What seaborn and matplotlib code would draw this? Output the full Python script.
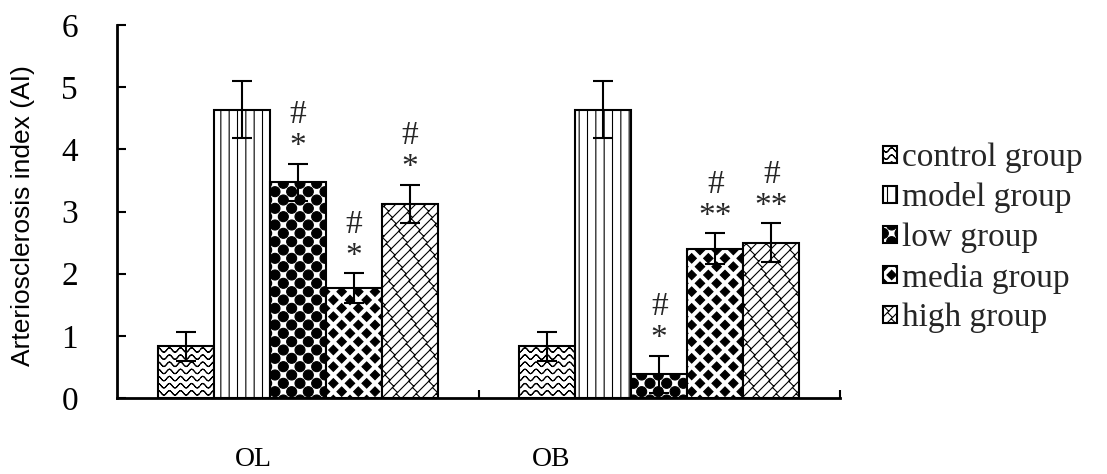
import warnings
import numpy as np
import pandas as pd
import matplotlib
matplotlib.use("Agg")
import matplotlib.pyplot as plt
import matplotlib.hatch as mhatch
import matplotlib.transforms as mtransforms
from matplotlib.path import Path
import seaborn as sns

warnings.filterwarnings("ignore")

# ---- data -------------------------------------------------------------
sites = ["OL", "OB"]
groups = ["control group", "model group", "low group", "media group", "high group"]
ol_mean = [0.83, 4.64, 3.47, 1.77, 3.12]
ol_err = [0.23, 0.46, 0.30, 0.24, 0.31]
ob_mean = [0.83, 4.64, 0.38, 2.40, 2.50]
ob_err = [0.23, 0.46, 0.30, 0.25, 0.31]
# significance marks: vs. control (lower line) and vs. model (upper line)
ol_star = ["", "", "*", "*", "*"]
ob_star = ["", "", "*", "**", "**"]
ol_hash = ["", "", "#", "#", "#"]
ob_hash = ["", "", "#", "#", "#"]
y_ticks = [0, 1, 2, 3, 4, 5, 6]


# ---- custom fill patterns ---------------------------------------------
class _TiledPattern(mhatch.HatchPatternBase):
    char = None

    def __init__(self, hatch, density):
        if hatch and self.char in hatch:
            self.verts, self.codes = self.build()
            self.num_vertices = len(self.verts)
        else:
            self.num_vertices = 0

    def set_vertices_and_codes(self, vertices, codes):
        vertices[:] = self.verts
        codes[:] = self.codes


def _segments(pairs):
    verts = np.asarray(pairs, float).reshape(-1, 2)
    codes = np.tile([Path.MOVETO, Path.LINETO], len(verts) // 2)
    return verts, codes


def _shapes(shape_v, shape_c, centers, scale):
    vs = [shape_v * scale + c for c in centers]
    cs = [shape_c for _ in centers]
    return np.concatenate(vs), np.concatenate(cs)


class WavePattern(_TiledPattern):
    char = "w"

    def build(self):
        rows, periods, amp, steps = 14, 9, 0.022, 12
        x = np.linspace(0, 1, periods * steps + 1)
        pairs = []
        for r in range(rows + 1):
            y = r / rows + amp * np.sin(2 * np.pi * periods * x)
            pts = np.column_stack([x, y])
            pairs.append(np.stack([pts[:-1], pts[1:]], axis=1))
        return _segments(np.concatenate(pairs))


class SphereCheckerPattern(_TiledPattern):
    char = "c"

    def build(self):
        n, radius = 12, 0.05
        circ = Path.unit_circle()
        centers = [(i / n, j / n) for i in range(-1, n + 2)
                   for j in range(-1, n + 2) if (i + j) % 2 == 0]
        return _shapes(circ.vertices, circ.codes, centers, radius)


class DiamondCheckerPattern(_TiledPattern):
    char = "d"

    def build(self):
        n, radius = 12, 0.047
        shape = np.array([[0, -1], [1, 0], [0, 1], [-1, 0], [0, -1]], float)
        codes = np.array([Path.MOVETO, Path.LINETO, Path.LINETO,
                          Path.LINETO, Path.CLOSEPOLY])
        centers = [(i / n, j / n) for i in range(-1, n + 2)
                   for j in range(-1, n + 2) if (i + j) % 2 == 0]
        return _shapes(shape, codes, centers, radius)


class DiagonalBrickPattern(_TiledPattern):
    char = "b"

    def build(self):
        # long strokes rising to the right, short joints between neighbours
        n, m = 10, 8
        d = 1.0 / n
        pairs = []
        for k in range(-n - 1, n + 2):
            c = k * d
            pairs.append([(c, 0.0), (1.0 + c, 1.0)])
            for q in range(-1, m + 2):
                t = c + (q + 0.5 * (k % 2)) / m
                pairs.append([(t, t - c), (t + d / 2, t - c - d / 2)])
        return _segments(pairs)


for _cls in (WavePattern, SphereCheckerPattern,
             DiamondCheckerPattern, DiagonalBrickPattern):
    mhatch._hatch_types.append(_cls)

hatches = ["w", "||", "c", "d", "b"]

# ---- figure -----------------------------------------------------------
sns.set_theme(style="white")
plt.rcParams["font.family"] = ["Liberation Serif", "DejaVu Serif"]
plt.rcParams["hatch.linewidth"] = 0.8
plt.rcParams["hatch.color"] = "black"

df = pd.DataFrame({
    "site": np.repeat(sites, len(groups)),
    "group": groups * len(sites),
    "value": ol_mean + ob_mean,
})

fig = plt.figure(figsize=(11.07, 4.74), dpi=100)
ax = fig.add_axes([117 / 1107, 1 - 398 / 474, 723 / 1107, 373 / 474])

sns.barplot(data=df, x="site", y="value", hue="group", order=sites,
            hue_order=groups, palette=["white"] * len(groups), saturation=1,
            width=0.775, edgecolor="black", linewidth=1.5, errorbar=None,
            legend=False, ax=ax)

bar_sets = list(ax.containers)
errs = [list(e) for e in zip(ol_err, ob_err)]
stars = [list(s) for s in zip(ol_star, ob_star)]
hashes = [list(h) for h in zip(ol_hash, ob_hash)]

for cont, hatch, err, st, hs in zip(bar_sets, hatches, errs, stars, hashes):
    xs, tops = [], []
    for bar in cont:
        bar.set_hatch(hatch)
        bar.set_zorder(2)
        xs.append(bar.get_x() + bar.get_width() / 2)
        tops.append(bar.get_height())
    ax.errorbar(xs, tops, yerr=err, fmt="none", ecolor="black",
                elinewidth=1.5, capsize=7.5, capthick=1.5, zorder=3)
    for x, top, e, s, h in zip(xs, tops, err, st, hs):
        if s:
            ax.annotate(s, (x, top + e), xytext=(0, 6),
                        textcoords="offset points", ha="center",
                        va="baseline", fontsize=24)
        if h:
            ax.annotate(h, (x, top + e), xytext=(0, 29),
                        textcoords="offset points", ha="center",
                        va="baseline", fontsize=24)

# axes styling
ax.set_xlim(-0.5, 1.5)
ax.set_ylim(0, 6)
ax.set_yticks(y_ticks)
ax.set_yticklabels([str(t) for t in y_ticks])
ax.set_xticks([0.5, 1.5])
ax.set_xticklabels([])
ax.tick_params(axis="y", direction="in", length=6.5, width=1.5, pad=28,
               labelsize=24, left=True, colors="black")
ax.tick_params(axis="x", direction="in", length=6, width=1.5, bottom=True,
               colors="black")
for side in ("top", "right"):
    ax.spines[side].set_visible(False)
for side in ("left", "bottom"):
    ax.spines[side].set_linewidth(2)
    ax.spines[side].set_color("black")
ax.set_xlabel("")
ax.set_ylabel("Arteriosclerosis index (AI)", family="Liberation Sans",
              fontsize=19, color="black")
ax.yaxis.set_label_coords(-0.113, 0.49)

# category names below the axis
site_label_x = [-0.124, 0.70]
name_tf = mtransforms.blended_transform_factory(ax.transData, fig.transFigure)
for name, xpos in zip(sites, site_label_x):
    ax.text(xpos, 2 / 474, name, transform=name_tf,
            ha="center", va="bottom", fontsize=20, color="black")

fig.legend([c.patches[0] for c in bar_sets], groups, loc="center left",
           bbox_to_anchor=(883 / 1107, 1 - 238 / 474), frameon=False,
           fontsize=24, handlelength=0.42, handleheight=0.42,
           handletextpad=0.15, labelspacing=0.28, borderpad=0,
           borderaxespad=0)

fig.savefig("out.png", dpi=100)
